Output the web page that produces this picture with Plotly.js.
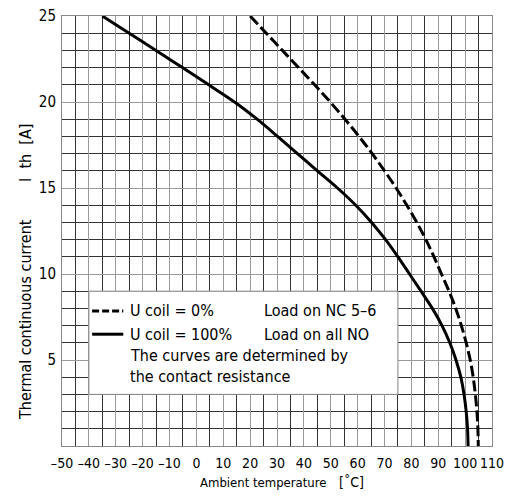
<!DOCTYPE html>
<html>
<head>
<meta charset="utf-8">
<script src="https://cdn.plot.ly/plotly-3.0.1.min.js"></script>
<style>
html,body{margin:0;padding:0;background:#fff;}
#chart{width:508px;height:498px;}
</style>
</head>
<body>
<div id="chart"></div>
<script>
// Current values (A) at which temperatures were read
const currentLevels = [25,24,23,22,21,20,19,18,17,16,15,14,13,12,11,10,9,8,7,6,5,4,3,2,1,0];
// U coil = 0%, Load on NC 5-6 (dashed)
const tempCoil0 = [20,26,32,38,44,49.8,55.3,60.5,65.4,70,74.3,78.3,82,85.4,88.4,91.2,94,96.5,98.6,100.4,101.9,103,103.8,104.4,104.75,104.9];
// U coil = 100%, Load on all NO (solid)
const tempCoil100 = [-35,-25,-15,-5.2,4.6,14.2,22.6,30.2,37.6,45,52.5,59.3,65.2,70.4,75,79.3,83.6,87.8,91.4,94.3,96.6,98.4,99.6,100.4,100.9,101.1];

const xTickVals = [-50,-40,-30,-20,-10,0,10,20,30,40,50,60,70,80,90,100,110];
const xTickText = ["\u201350","\u201340","\u201330","\u201320","\u201310","0","10","20","30","40","50","60","70","80","90","100","110"];
const yTickVals = [5,10,15,20,25];

const seriesNames = ["U coil = 0%", "U coil = 100%"];
const loadLabels = ["Load on NC 5\u20136", "Load on all NO"];
const noteLines = ["The curves are determined by", "the contact resistance"];

const FONT = "'Liberation Sans Narrow', 'DejaVu Sans Condensed', 'Arial Narrow', sans-serif";

const traces = [
  {x: tempCoil0, y: currentLevels, mode: 'lines', name: seriesNames[0],
   line: {color: '#000', width: 3, dash: '11px,4px', shape: 'spline', smoothing: 1}, hoverinfo: 'skip'},
  {x: tempCoil100, y: currentLevels, mode: 'lines', name: seriesNames[1],
   line: {color: '#000', width: 3, shape: 'spline', smoothing: 1}, hoverinfo: 'skip'}
];

const legendFont = {family: FONT, size: 16, color: '#000'};
const tickFont = {family: FONT, size: 14, color: '#000'};

const layout = {
  width: 508, height: 498,
  margin: {l: 62, r: 16, t: 16, b: 52},
  paper_bgcolor: '#fff', plot_bgcolor: '#fff',
  showlegend: false,
  font: {family: FONT, size: 14, color: '#000'},
  xaxis: {
    range: [-50, 110], tickvals: xTickVals, ticktext: xTickText, ticks: '', tickangle: 0, showgrid: true,
    gridcolor: '#9a9a9a', gridwidth: 1,
    minor: {dtick: 5, tick0: -50, showgrid: true, gridcolor: '#333', gridwidth: 1, ticks: ''},
    showline: true, linecolor: '#888', linewidth: 1, mirror: true,
    zeroline: false, tickfont: tickFont, ticklabelstandoff: 4,
    fixedrange: true
  },
  yaxis: {
    range: [0, 25], tickvals: yTickVals, ticks: '', showgrid: true,
    gridcolor: '#9a9a9a', gridwidth: 1,
    minor: {dtick: 1, tick0: 0, showgrid: true, gridcolor: '#333', gridwidth: 1, ticks: ''},
    showline: true, linecolor: '#888', linewidth: 1, mirror: true,
    zeroline: false, tickfont: {family: FONT, size: 15, color: '#000'},
    ticklabelstandoff: 2,
    fixedrange: true
  },
  shapes: [
    {type: 'rect', xref: 'x', yref: 'y', x0: -40, x1: 75, y0: 3, y1: 9,
     fillcolor: '#fff', line: {color: '#888', width: 1}, layer: 'between'},
    {type: 'line', xref: 'x', yref: 'y', x0: -38.8, x1: -27.2, y0: 7.85, y1: 7.85,
     line: {color: '#000', width: 3, dash: '7px,3px'}, layer: 'above'},
    {type: 'line', xref: 'x', yref: 'y', x0: -38.8, x1: -27.2, y0: 6.5, y1: 6.5,
     line: {color: '#000', width: 3}, layer: 'above'}
  ],
  annotations: [
    {xref: 'x', yref: 'y', x: -25.4, y: 7.85, text: seriesNames[0], showarrow: false, xanchor: 'left', yanchor: 'middle', font: legendFont},
    {xref: 'x', yref: 'y', x: -25.4, y: 6.5, text: seriesNames[1], showarrow: false, xanchor: 'left', yanchor: 'middle', font: legendFont},
    {xref: 'x', yref: 'y', x: 24.3, y: 7.85, text: loadLabels[0], showarrow: false, xanchor: 'left', yanchor: 'middle', font: legendFont},
    {xref: 'x', yref: 'y', x: 24.3, y: 6.5, text: loadLabels[1], showarrow: false, xanchor: 'left', yanchor: 'middle', font: legendFont},
    {xref: 'x', yref: 'y', x: -25.4, y: 5.25, text: noteLines[0], showarrow: false, xanchor: 'left', yanchor: 'middle', font: legendFont},
    {xref: 'x', yref: 'y', x: -25.4, y: 4.05, text: noteLines[1], showarrow: false, xanchor: 'left', yanchor: 'middle', font: legendFont},
    {xref: 'paper', yref: 'paper', x: (263-62)/430, y: -(482-446)/430, text: 'Ambient temperature', showarrow: false, xanchor: 'center', yanchor: 'middle', font: {family: FONT, size: 13, color: '#000'}},
    {xref: 'paper', yref: 'paper', x: (351-62)/430, y: -(482-446)/430, text: '[\u02DAC]', showarrow: false, xanchor: 'center', yanchor: 'middle', font: {family: FONT, size: 14, color: '#000'}},
    {xref: 'paper', yref: 'paper', x: -(62-25)/430, y: (446-320)/430, text: 'Thermal continuous current', showarrow: false, xanchor: 'center', yanchor: 'middle', textangle: -90, font: legendFont},
    {xref: 'paper', yref: 'paper', x: -(62-25)/430, y: (446-153)/430, text: 'I\u00a0\u00a0th\u00a0\u00a0[A]', showarrow: false, xanchor: 'center', yanchor: 'middle', textangle: -90, font: legendFont}
  ]
};

Plotly.newPlot('chart', traces, layout, {displayModeBar: false, staticPlot: true});
</script>
</body>
</html>
